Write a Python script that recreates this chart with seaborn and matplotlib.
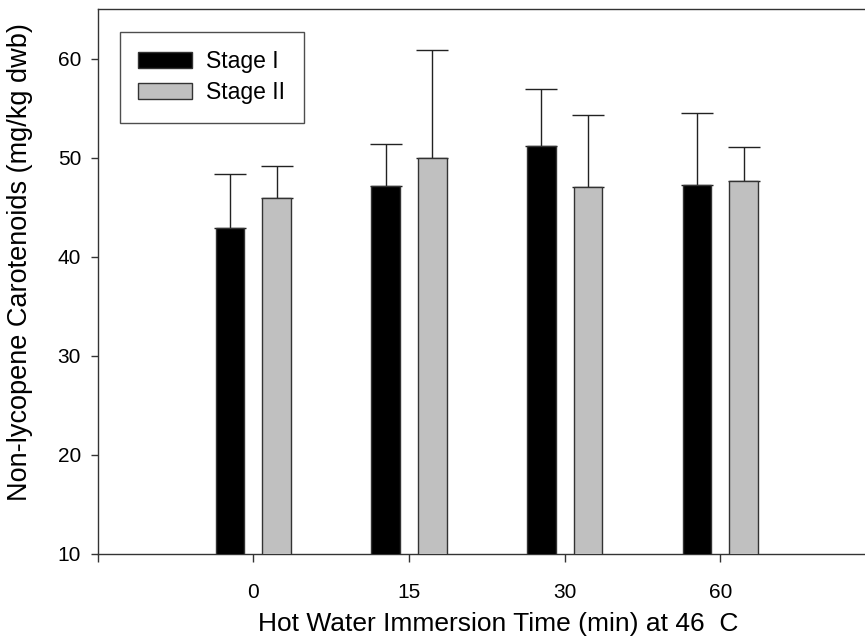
import matplotlib
matplotlib.use("Agg")
import matplotlib.pyplot as plt
import numpy as np
import pandas as pd
import seaborn as sns

# Immersion times (min) and group means / upper standard deviations
times = ["0", "15", "30", "60"]
stages = ["Stage I", "Stage II"]
stage1_mean = [42.9, 47.2, 51.2, 47.3]
stage1_err = [5.5, 4.2, 5.8, 7.2]
stage2_mean = [46.0, 50.0, 47.1, 47.7]
stage2_err = [3.2, 10.9, 7.2, 3.4]

df = pd.DataFrame({
    "time": times * 2,
    "stage": [stages[0]] * 4 + [stages[1]] * 4,
    "value": stage1_mean + stage2_mean,
    "err": stage1_err + stage2_err,
})

sns.set_style("ticks", {"text.color": "black", "axes.labelcolor": "black",
                        "xtick.color": "black", "ytick.color": "black"})
plt.rcParams["font.family"] = ["Liberation Sans", "DejaVu Sans"]

fig = plt.figure(figsize=(8.65, 6.44), dpi=100)
ax = fig.add_axes([0.113, 0.1398, 0.8995, 0.8463])

palette = {"Stage I": "#000000", "Stage II": "#c0c0c0"}
sns.barplot(data=df, x="time", y="value", hue="stage", order=times,
            hue_order=stages, palette=palette, width=0.6, gap=0.387,
            errorbar=None, edgecolor="#333333", linewidth=1.0,
            saturation=1, ax=ax, zorder=3)

# upper-only error bars placed on the drawn bars
for patch_container, st in zip(ax.containers, stages):
    sub = df[df["stage"] == st].set_index("time").loc[times]
    xs = [p.get_x() + p.get_width() / 2 for p in patch_container.patches]
    ys = [p.get_height() for p in patch_container.patches]
    ax.errorbar(xs, ys, yerr=[np.zeros(len(xs)), sub["err"].values],
                fmt="none", ecolor="#222222", elinewidth=1.0,
                capsize=11.5, capthick=1.0, zorder=2)

ax.set_xlim(-1, 4)
ax.set_ylim(10, 65.05)
ax.set_xticks([-1, 0, 1, 2, 3])
ax.set_xticklabels([""] + times)
ax.set_yticks([10, 20, 30, 40, 50, 60])

for s in ["left", "bottom", "top"]:
    ax.spines[s].set_color("#333333")
    ax.spines[s].set_linewidth(1.0)
ax.spines["right"].set_visible(False)

ax.tick_params(axis="x", direction="out", length=6, width=1.0,
               color="#333333", labelcolor="black", pad=15, labelsize=15)
ax.tick_params(axis="y", direction="out", length=5, width=1.0,
               color="#333333", labelcolor="black", pad=7, labelsize=15)

ax.set_xlabel("Hot Water Immersion Time (min) at 46  C", fontsize=19,
              color="black")
ax.set_ylabel("Non-lycopene Carotenoids (mg/kg dwb)", fontsize=19.5,
              color="black")
ax.xaxis.set_label_coords(0.515, -0.106)
ax.yaxis.set_label_coords(-0.083, 0.536)

leg = ax.legend(loc="upper left", bbox_to_anchor=(0.0287, 0.958),
                borderaxespad=0, fontsize=16.5, frameon=True, fancybox=False,
                handlelength=2.36, handleheight=0.7, handletextpad=0.61,
                labelspacing=0.35, borderpad=0.8, title=None)
leg.get_frame().set_edgecolor("#222222")
leg.get_frame().set_linewidth(1.0)
for h in leg.get_patches():
    h.set_edgecolor("#333333")
for t in leg.get_texts():
    t.set_color("black")

fig.savefig("out.png", dpi=100)
